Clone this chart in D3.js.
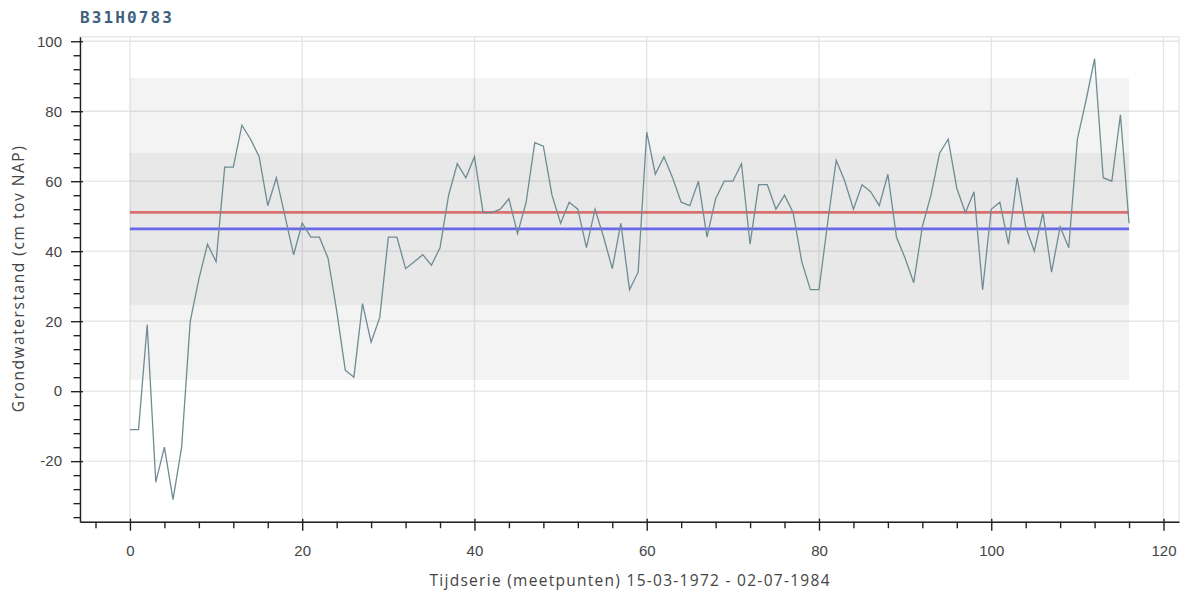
<!DOCTYPE html>
<html><head><meta charset="utf-8">
<script src="https://cdn.jsdelivr.net/npm/d3@7"></script>
<style>body{margin:0;background:#fff;overflow:hidden}</style>
</head><body>
<svg id="c" width="1189" height="596"></svg>
<script>
const chartTitle = "B31H0783";
const xTitle = "Tijdserie (meetpunten) 15-03-1972 - 02-07-1984";
const yTitle = "Grondwaterstand (cm tov NAP)";
const values = [
  -11,-11,19,-26,-16,-31,-16,20,32,42,
  37,64,64,76,72,67,53,61,50,39,
  48,44,44,38,23,6,4,25,14,21,
  44,44,35,37,39,36,41,56,65,61,
  67,51,51,52,55,45,54,71,70,56,
  48,54,52,41,52,44,35,48,29,34,
  74,62,67,61,54,53,60,44,55,60,
  60,65,42,59,59,52,56,51,37,29,
  29,48,66,60,52,59,57,53,62,44,
  38,31,47,56,68,72,58,51,57,29,
  52,54,42,61,47,40,51,34,47,41,
  72,83,95,61,60,79,48
];
const xTicks = [0,20,40,60,80,100,120];
const yTicks = [-20,0,20,40,60,80,100];
const outerBand = [3.2, 89.5];
const innerBand = [24.6, 68.0];
const medianLevel = 51.1;
const meanLevel = 46.4;

const svg = d3.select("#c");
const frame = {left:80, right:1179, top:36.7, bottom:521.7};

const idx = values.map((v,i)=>i);
const xExt = d3.extent(idx), yExt = d3.extent(values);
const xPad = (xExt[1]-xExt[0])*0.05, yPad = (yExt[1]-yExt[0])*0.05;
const x = d3.scaleLinear().domain([xExt[0]-xPad, xExt[1]+xPad]).range([frame.left, frame.right]);
const y = d3.scaleLinear().domain([yExt[0]-yPad, yExt[1]+yPad]).range([frame.bottom, frame.top]);

// grid
const grid = svg.append("g").attr("stroke","#e5e5e5").attr("stroke-width",1.3);
grid.selectAll(".gx").data(xTicks).join("line")
  .attr("x1",d=>x(d)).attr("x2",d=>x(d)).attr("y1",frame.top).attr("y2",frame.bottom);
grid.selectAll(".gy").data(yTicks).join("line")
  .attr("y1",d=>y(d)).attr("y2",d=>y(d)).attr("x1",frame.left).attr("x2",frame.right);
svg.append("rect").attr("x",frame.left).attr("y",frame.top)
  .attr("width",frame.right-frame.left).attr("height",frame.bottom-frame.top)
  .attr("fill","none").attr("stroke","#e5e5e5").attr("stroke-width",1.3);

// bands
[outerBand, innerBand].forEach(b=>{
  svg.append("rect").attr("x",x(xExt[0])).attr("width",x(xExt[1])-x(xExt[0]))
    .attr("y",y(b[1])).attr("height",y(b[0])-y(b[1]))
    .attr("fill","#6f6f6f").attr("fill-opacity",0.085);
});

// reference lines
[[medianLevel,"#d03030"],[meanLevel,"#2424f0"]].forEach(([v,c])=>{
  svg.append("line").attr("x1",x(xExt[0])).attr("x2",x(xExt[1]))
    .attr("y1",y(v)).attr("y2",y(v))
    .attr("stroke",c).attr("stroke-opacity",0.65).attr("stroke-width",2.7);
});

// series
const line = d3.line().x((d,i)=>x(i)).y(d=>y(d));
svg.append("path").datum(values).attr("d",line)
  .attr("fill","none").attr("stroke","#6f8c93").attr("stroke-width",1.3);

// axes
const fmt = d => String(d);
const tickFont = g => g.selectAll("text").attr("font-family","'Liberation Sans', Arial, sans-serif")
  .attr("font-size",15).attr("fill","#444");
const minorX = d3.range(-4, 121, 4).filter(d=>d%20!==0);
const minorY = d3.range(-36, 101, 4).filter(d=>d%20!==0);

const gxMinor = svg.append("g").attr("transform",`translate(0,${frame.bottom})`)
  .call(d3.axisBottom(x).tickValues(minorX).tickSize(6.5).tickFormat(""));
gxMinor.select(".domain").remove();
const gx = svg.append("g").attr("transform",`translate(0,${frame.bottom})`)
  .call(d3.axisBottom(x).tickValues(xTicks).tickFormat(fmt).tickSize(9).tickSizeOuter(0).tickPadding(15));
gx.selectAll(".tick line").attr("y1",-3);
gx.call(tickFont);

const gyMinor = svg.append("g").attr("transform",`translate(${frame.left},0)`)
  .call(d3.axisLeft(y).tickValues(minorY).tickSize(6.5).tickFormat(""));
gyMinor.select(".domain").remove();
const gy = svg.append("g").attr("transform",`translate(${frame.left},0)`)
  .call(d3.axisLeft(y).tickValues(yTicks).tickFormat(fmt).tickSize(9).tickSizeOuter(0).tickPadding(9));
gy.selectAll(".tick line").attr("x1",3);
gy.call(tickFont);

svg.selectAll(".domain, .tick line").attr("stroke","#222").attr("stroke-width",1.4);

// titles
svg.append("text").attr("x",80).attr("y",23.3).text(chartTitle)
  .attr("font-family","'DejaVu Sans Mono', monospace").attr("font-weight","bold")
  .attr("font-size",16).attr("fill","#3e5f7d")
  .attr("textLength",92).attr("lengthAdjust","spacing");

svg.append("text").attr("x",(frame.left+frame.right)/2).attr("y",586)
  .attr("text-anchor","middle").text(xTitle)
  .attr("font-family","'Open Sans', sans-serif").attr("font-size",15.5).attr("fill","#444")
  .attr("textLength",400).attr("lengthAdjust","spacing");

svg.append("text").attr("transform",`translate(24,${(frame.top+frame.bottom)/2}) rotate(-90)`)
  .attr("text-anchor","middle").text(yTitle)
  .attr("font-family","'Open Sans', sans-serif").attr("font-size",15.5).attr("fill","#444")
  .attr("textLength",266).attr("lengthAdjust","spacing");
</script>
</body></html>
